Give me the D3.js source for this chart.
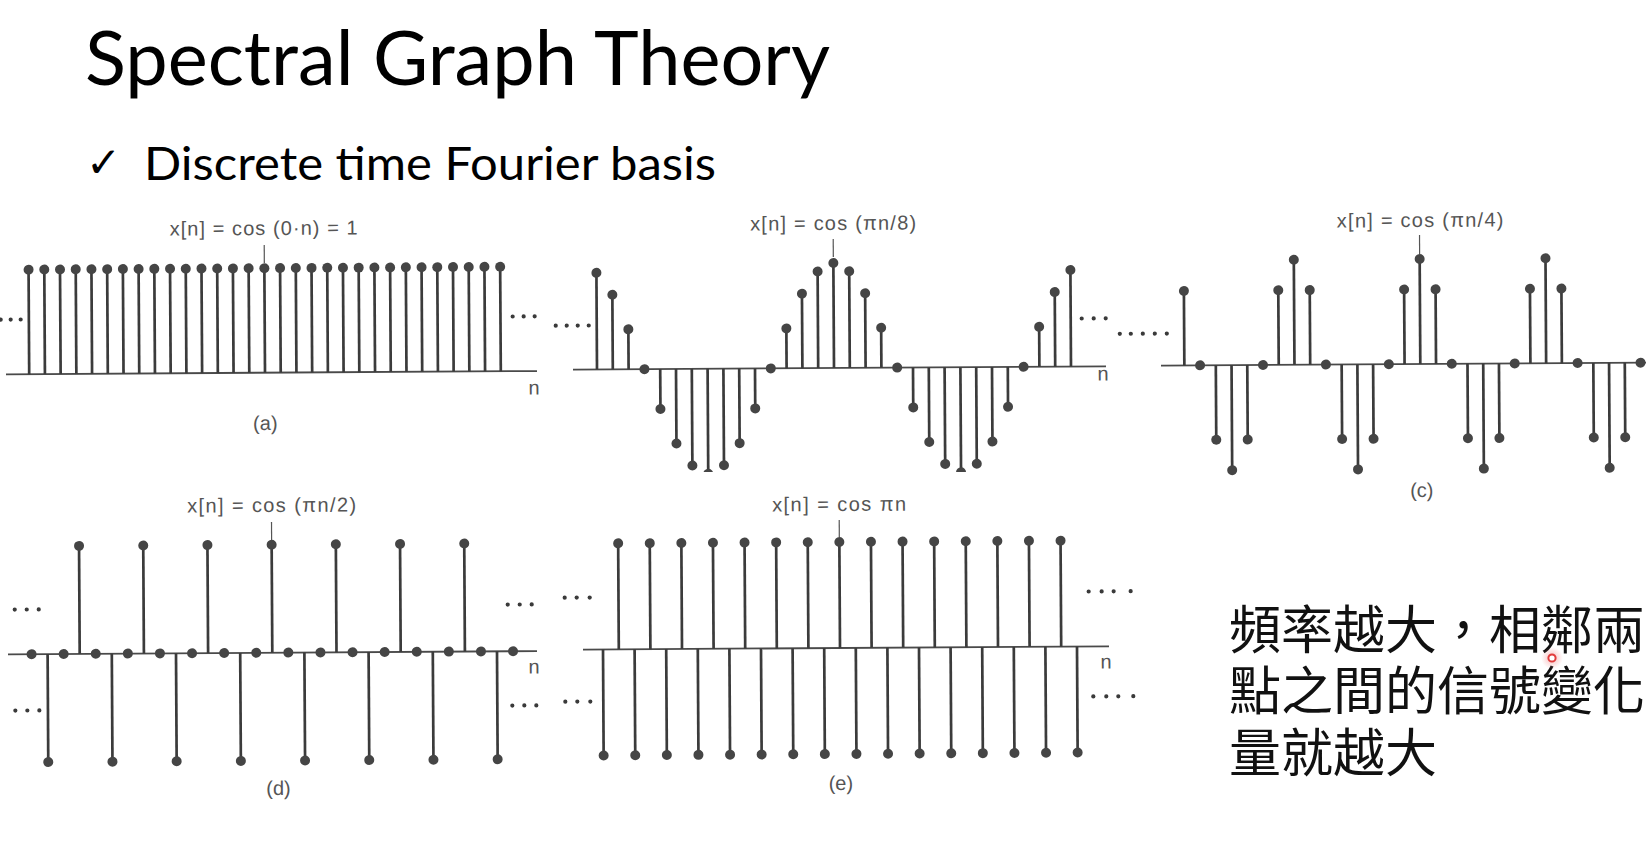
<!DOCTYPE html>
<html><head><meta charset="utf-8">
<script src="https://cdn.jsdelivr.net/npm/d3@7"></script>
<style>html,body{margin:0;padding:0;background:#fff;overflow:hidden}</style>
</head><body>
<svg id="c" width="1646" height="864" xmlns="http://www.w3.org/2000/svg"></svg>
<script>
// ---------- data ----------
const nAll = [-15,-14,-13,-12,-11,-10,-9,-8,-7,-6,-5,-4,-3,-2,-1,0,1,2,3,4,5,6,7,8,9,10,11,12,13,14,15];
const nVisibleC = [-15,-14,-13,-12,-11,-10,-9,-8,-7,-6,-5,-4,-3,-2,-1,0,1,2,3,4,5,6,7,8,9,10,11,12,13,14];
const valuesA = [1,1,1,1,1,1,1,1,1,1,1,1,1,1,1,1,1,1,1,1,1,1,1,1,1,1,1,1,1,1,1];
const valuesB = [0.92,0.71,0.38,0,-0.38,-0.71,-0.92,-1,-0.92,-0.71,-0.38,0,0.38,0.71,0.92,1,0.92,0.71,0.38,0,-0.38,-0.71,-0.92,-1,-0.92,-0.71,-0.38,0,0.38,0.71,0.92];
const valuesC = [0.71,0,-0.71,-1,-0.71,0,0.71,1,0.71,0,-0.71,-1,-0.71,0,0.71,1,0.71,0,-0.71,-1,-0.71,0,0.71,1,0.71,0,-0.71,-1,-0.71,0];
const valuesD = [0,-1,0,1,0,-1,0,1,0,-1,0,1,0,-1,0,1,0,-1,0,1,0,-1,0,1,0,-1,0,1,0,-1,0];
const valuesE = [-1,1,-1,1,-1,1,-1,1,-1,1,-1,1,-1,1,-1,1,-1,1,-1,1,-1,1,-1,1,-1,1,-1,1,-1,1,-1];
const formulaLabels = ["x[n] = cos (0·n) = 1", "x[n] = cos (πn/8)", "x[n] = cos (πn/4)", "x[n] = cos (πn/2)", "x[n] = cos πn"];
const panelTags = ["(a)", null, "(c)", "(d)", "(e)"];
const titleText = "Spectral Graph Theory";
const bulletText = "Discrete time Fourier basis";
const noteLines = ["頻率越大，相鄰兩", "點之間的信號變化", "量就越大"];

// ---------- layout ----------
const layouts = [
  {values: valuesA, n: nAll, cx: 265, step: 15.72, axisY: 372.7, unit: 104.5, axisX: [6, 537],
   labelX: 264.5, labelY: 235, labelW: 188, ptr: [245, 263], tagX: 265, tagY: 430, nX: 534, nY: 396,
   dots: [[1,318],[11,318],[21,318],[513,318],[524,318],[535,318]]},
  {values: valuesB, n: nAll, cx: 834, step: 15.8, axisY: 368, unit: 105, axisX: [573, 1106],
   labelX: 834, labelY: 230, labelW: 166, ptr: [239, 257], nX: 1103, nY: 382, clipBottom: 472,
   dots: [[556,324],[567,324],[578,324],[589,324],[1082,320],[1094,320],[1106,320]]},
  {values: valuesC, n: nVisibleC, cx: 1420.3, step: 15.73, axisY: 364, unit: 105, axisX: [1161, 1660],
   labelX: 1421, labelY: 227, labelW: 166.6, ptr: [235, 254], tagX: 1421, tagY: 497,
   dots: [[1120,332],[1131,332],[1143,332],[1155,332],[1167,332]]},
  {values: valuesD, n: nAll, cx: 272.3, step: 16.05, axisY: 652.7, unit: 108, axisX: [8, 537],
   labelX: 272.5, labelY: 512, labelW: 169, ptr: [522, 540], tagX: 277.7, tagY: 795, nX: 534, nY: 675,
   dots: [[15,608],[27,608],[39,608],[15,709],[27,709],[39,709],[508,606],[520,606],[532,606],[512,707],[524,707],[536,707]]},
  {values: valuesE, n: nAll, cx: 840, step: 15.8, axisY: 648, unit: 106, axisX: [583, 1109],
   labelX: 840, labelY: 511, labelW: 134, ptr: [520, 537], tagX: 840, tagY: 790, nX: 1106, nY: 670,
   dots: [[565,596],[577,596],[590,596],[565,700],[577,700],[590,700],[1089,593],[1102,593],[1114,593],[1131,593],[1093,698],[1106,698],[1118,698],[1133,698]]}
];

const svg = d3.select('#c');
const defs = svg.append('defs');
const glow = defs.append('radialGradient').attr('id','glow');
glow.append('stop').attr('offset','0%').attr('stop-color','#f08080').attr('stop-opacity',0.55);
glow.append('stop').attr('offset','100%').attr('stop-color','#f08080').attr('stop-opacity',0);

const STEM = '#3b3b3b', DOT = '#454545', AXIS = '#4a4a4a', LABEL = '#555';
const labelFont = '"Liberation Sans", Arial, sans-serif';

layouts.forEach((L, i) => {
  const x = d3.scaleLinear().domain([-15, 15]).range([L.cx - 15 * L.step, L.cx + 15 * L.step]);
  const y = d3.scaleLinear().domain([-1, 1]).range([L.axisY + L.unit, L.axisY - L.unit]);
  let outer = svg.append('g');
  if (L.clipBottom) {
    defs.append('clipPath').attr('id', 'clip' + i).append('rect')
      .attr('x', 0).attr('y', 0).attr('width', 1646).attr('height', L.clipBottom);
    outer.attr('clip-path', `url(#clip${i})`);
  }
  const g = outer.append('g').attr('transform', `rotate(-0.35, ${L.cx}, ${L.axisY})`);
  const data = L.n.map((n, k) => ({n, v: L.values[k]}));

  g.append('line').attr('x1', L.axisX[0]).attr('x2', L.axisX[1])
    .attr('y1', y(0)).attr('y2', y(0)).attr('stroke', AXIS).attr('stroke-width', 1.8);

  g.selectAll('line.stem').data(data.filter(d => d.v !== 0)).join('line').attr('class', 'stem')
    .attr('x1', d => x(d.n)).attr('x2', d => x(d.n))
    .attr('y1', y(0)).attr('y2', d => y(d.v))
    .attr('stroke', STEM).attr('stroke-width', 2.7);
  g.selectAll('circle.dot').data(data).join('circle').attr('class', 'dot')
    .attr('cx', d => x(d.n)).attr('cy', d => y(d.v)).attr('r', 5).attr('fill', DOT);

  g.selectAll('circle.ell').data(L.dots).join('circle').attr('class', 'ell')
    .attr('cx', d => d[0]).attr('cy', d => d[1]).attr('r', 2.1).attr('fill', '#3a3a3a');

  g.append('line').attr('x1', x(0)).attr('x2', x(0)).attr('y1', L.ptr[0]).attr('y2', L.ptr[1])
    .attr('stroke', '#555').attr('stroke-width', 1.2);

  g.append('text').attr('x', L.labelX).attr('y', L.labelY).attr('text-anchor', 'middle')
    .attr('font-family', labelFont).attr('font-size', 20).attr('fill', LABEL)
    .attr('textLength', L.labelW).attr('lengthAdjust', 'spacing')
    .text(formulaLabels[i]);

  if (L.nX) {
    g.append('text').attr('x', L.nX).attr('y', L.nY).attr('text-anchor', 'middle')
      .attr('font-family', labelFont).attr('font-size', 20).attr('fill', LABEL).text('n');
  }
  if (panelTags[i]) {
    g.append('text').attr('x', L.tagX).attr('y', L.tagY).attr('text-anchor', 'middle')
      .attr('font-family', labelFont).attr('font-size', 20).attr('fill', LABEL).text(panelTags[i]);
  }
});

// ---------- slide text ----------
svg.append('text').attr('x', 85).attr('y', 85)
  .attr('font-family', 'Lato, "Open Sans", sans-serif').attr('font-size', 75).attr('fill', '#000')
  .attr('textLength', 745).attr('lengthAdjust', 'spacingAndGlyphs').text(titleText);

svg.append('text').attr('x', 86).attr('y', 177)
  .attr('font-family', '"DejaVu Sans", sans-serif').attr('font-size', 42).attr('fill', '#000').text('✓');

svg.append('text').attr('x', 144).attr('y', 180)
  .attr('font-family', 'Lato, "Open Sans", sans-serif').attr('font-size', 46.5).attr('fill', '#000')
  .attr('textLength', 572).attr('lengthAdjust', 'spacingAndGlyphs').text(bulletText);

const noteY = [649, 710, 772];
const note = svg.append('text')
  .attr('font-family', '"Noto Sans CJK TC", "Noto Sans CJK SC", sans-serif')
  .attr('font-size', 52).attr('fill', '#111');
note.selectAll('tspan').data(noteLines).join('tspan')
  .attr('x', 1229).attr('y', (d, k) => noteY[k]).text(d => d);

// laser pointer
svg.append('circle').attr('cx', 1552).attr('cy', 658).attr('r', 11).attr('fill', 'url(#glow)');
svg.append('circle').attr('cx', 1552).attr('cy', 658).attr('r', 3.6)
  .attr('fill', '#fff').attr('stroke', '#e23b3b').attr('stroke-width', 2);
</script>
</body></html>
